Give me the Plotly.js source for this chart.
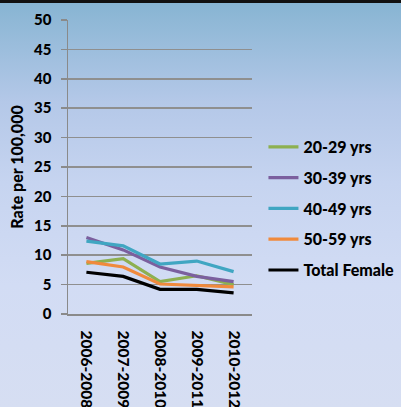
<!DOCTYPE html>
<html>
<head>
<meta charset="utf-8">
<script src="https://cdn.plot.ly/plotly-3.0.1.min.js"></script>
<style>
  html, body { margin: 0; padding: 0; }
  body { width: 401px; height: 407px; overflow: hidden;
         background: linear-gradient(to bottom, #86b4d2 0%, #b4c8e8 25%, #c6d4f0 45%, #d2dcf4 70%, #d6def2 100%); }
  #bar { position: absolute; left: 0; top: 0; width: 401px; height: 3px; background: #111; z-index: 5; }
  #chart { position: absolute; left: 0; top: 0; width: 401px; height: 407px; }
</style>
</head>
<body>
<div id="bar"></div>
<div id="chart"></div>
<script>
const categories = ["2006-2008", "2007-2009", "2008-2010", "2009-2011", "2010-2012"];
const seriesNames = ["20-29 yrs", "30-39 yrs", "40-49 yrs", "50-59 yrs", "Total Female"];
const age20_29 = [8.6, 9.4, 5.5, 6.5, 5.0];
const age30_39 = [13.0, 10.9, 8.0, 6.4, 5.5];
const age40_49 = [12.4, 11.6, 8.5, 9.0, 7.2];
const age50_59 = [8.9, 8.0, 5.1, 4.8, 4.6];
const totalFemale = [7.1, 6.4, 4.2, 4.2, 3.6];
const yTicks = [0, 5, 10, 15, 20, 25, 30, 35, 40, 45, 50];

const colors = ["#8db050", "#7b5f9e", "#40a6c2", "#f08a3c", "#000000"];
const allSeries = [age20_29, age30_39, age40_49, age50_59, totalFemale];

const font = { family: "Lato, 'Open Sans', sans-serif", weight: 900, color: "#000" };

const traces = allSeries.map((vals, i) => ({
  x: categories,
  y: vals,
  name: seriesNames[i],
  type: "scatter",
  mode: "lines",
  legendgroup: "g" + i,
  line: { color: colors[i], width: 3.2 }
}));

const layout = {
  width: 401, height: 407,
  margin: { l: 68, r: 149, t: 20, b: 93, autoexpand: false },
  paper_bgcolor: "rgba(0,0,0,0)",
  plot_bgcolor: "rgba(0,0,0,0)",
  showlegend: true,
  legend: {
    xref: "container", yref: "container",
    x: 0.657, xanchor: "left", y: 0.488, yanchor: "middle",
    bgcolor: "rgba(0,0,0,0)",
    font: Object.assign({}, font, { size: 16 }),
    tracegroupgap: 7,
    traceorder: "grouped"
  },
  xaxis: {
    type: "category",
    range: [-0.5, 4.5],
    tickangle: 90,
    tickfont: Object.assign({}, font, { size: 15.5 }),
    showline: true, linecolor: "#8a8a8a", linewidth: 1.5,
    showgrid: false, zeroline: false,
    ticks: "", ticklabelstandoff: 12, fixedrange: true
  },
  yaxis: {
    range: [0, 50],
    tickvals: yTicks,
    tickfont: Object.assign({}, font, { size: 15 }),
    showline: true, linecolor: "#8a8a8a", linewidth: 1.5,
    showgrid: true, gridcolor: "#8f8f8f", gridwidth: 1.5,
    zeroline: false,
    ticks: "outside", ticklen: 6, tickcolor: "#8a8a8a", tickwidth: 1.5,
    ticklabelstandoff: 6,
    title: { text: "Rate per 100,000", font: Object.assign({}, font, { size: 16 }), standoff: 6 },
    fixedrange: true
  }
};

Plotly.newPlot("chart", traces, layout, { displayModeBar: false, staticPlot: true });
</script>
</body>
</html>
